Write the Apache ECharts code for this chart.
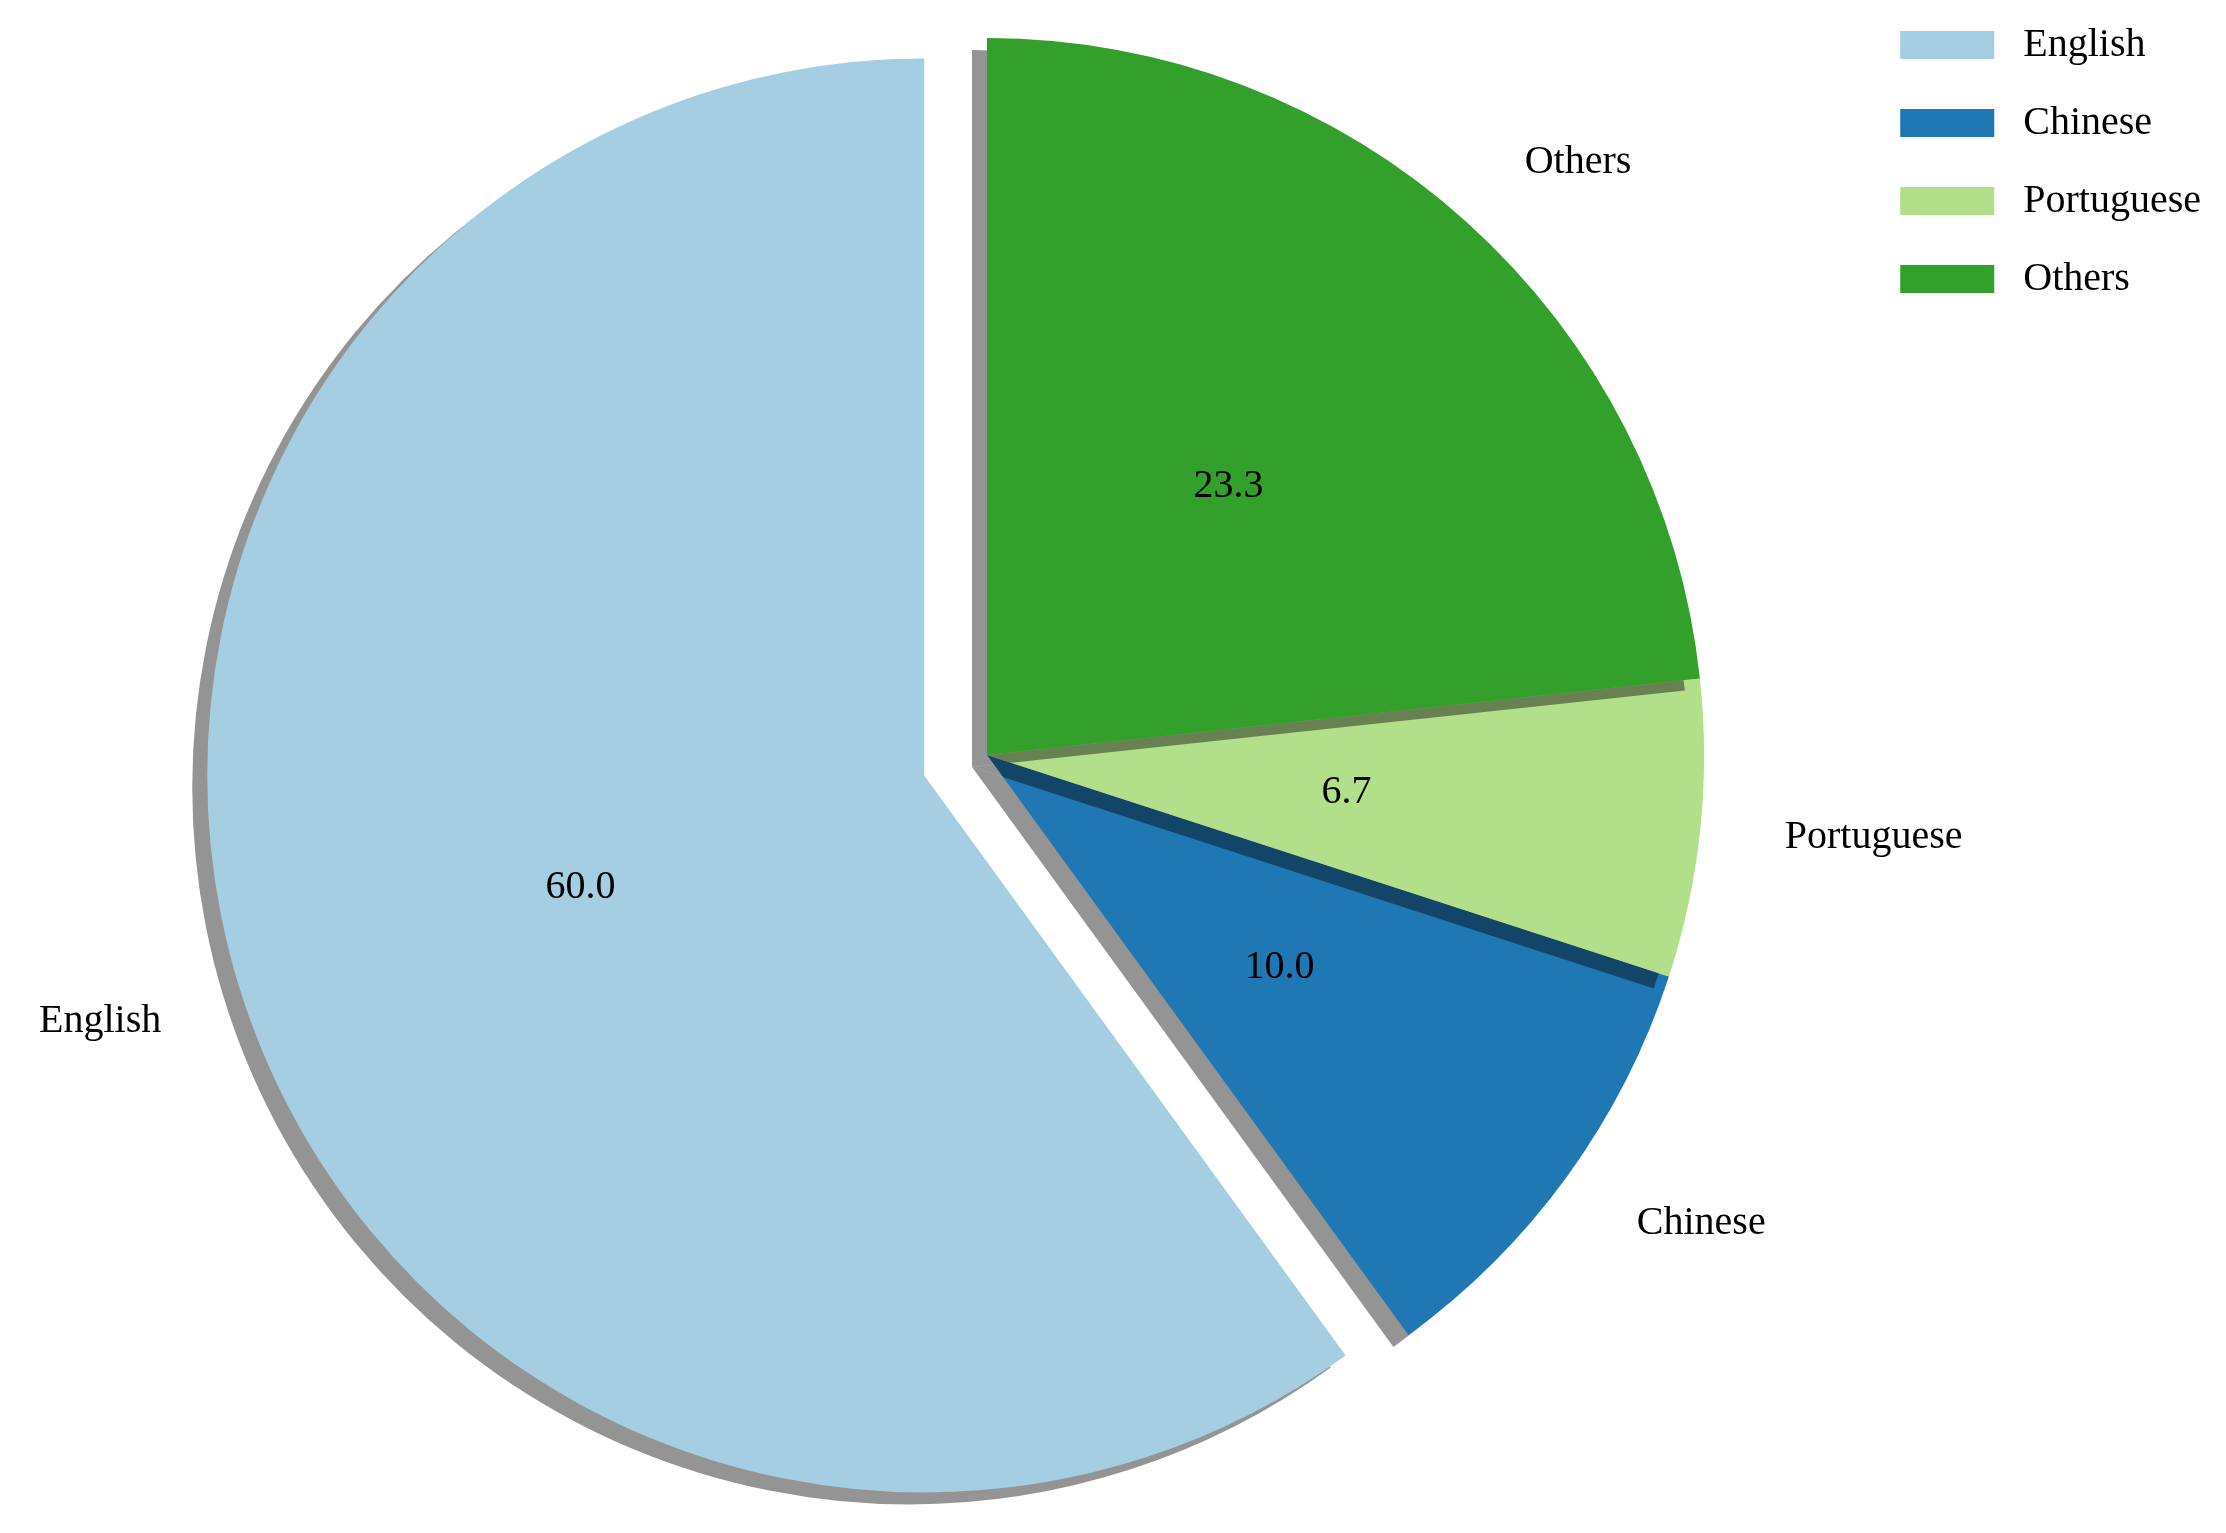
<!DOCTYPE html>
<html><head><meta charset="utf-8">
<script src="https://cdn.jsdelivr.net/npm/echarts@6/dist/echarts.min.js"></script>
<style>html,body{margin:0;background:#fff}#c{width:2226px;height:1533px}</style>
</head><body><div id="c"></div>
<script>
var categories = ['English', 'Chinese', 'Portuguese', 'Others'];
var values = [60.0, 10.0, 6.7, 23.3];
var colors = ['#a6cee3', '#1f78b4', '#b2df8a', '#33a02c'];
var font = 'Liberation Serif';

function items(extra) {
  return categories.map(function (c, i) {
    return Object.assign({ name: c, value: values[i], selected: i === 0 }, extra(i));
  });
}

var chart = echarts.init(document.getElementById('c'));
chart.setOption({
  animation: false,
  legend: {
    orient: 'vertical', right: 20, top: 20,
    itemWidth: 94, itemHeight: 28, itemGap: 38, icon: 'rect',
    textStyle: { fontFamily: font, fontSize: 40, color: '#000', padding: [0, 0, 0, 24] },
    data: categories
  },
  series: [{
    type: 'pie', center: [987, 755], radius: 717,
    startAngle: 90, clockwise: false,
    selectedMode: 'single', selectedOffset: 66,
    data: items(function (i) { return { itemStyle: { color: colors[i] } }; }),
    itemStyle: { shadowColor: 'rgba(0,0,0,0.42)', shadowBlur: 0, shadowOffsetX: -15, shadowOffsetY: 12 },
    label: { position: 'outside', fontFamily: font, fontSize: 40, color: '#000', formatter: '{b}' },
    labelLine: { show: false, length: 80, length2: 0 },
    emphasis: { disabled: true }
  }, {
    type: 'pie', center: [987, 755], radius: 717,
    startAngle: 90, clockwise: false,
    selectedMode: 'single', selectedOffset: 66,
    legendHoverLink: false,
    data: items(function () { return { itemStyle: { color: 'rgba(0,0,0,0)' } }; }),
    label: { position: 'inside', fontFamily: font, fontSize: 40, color: '#000',
      formatter: function (p) { return p.value.toFixed(1); } },
    emphasis: { disabled: true },
    tooltip: { show: false }
  }]
});
</script></body></html>
